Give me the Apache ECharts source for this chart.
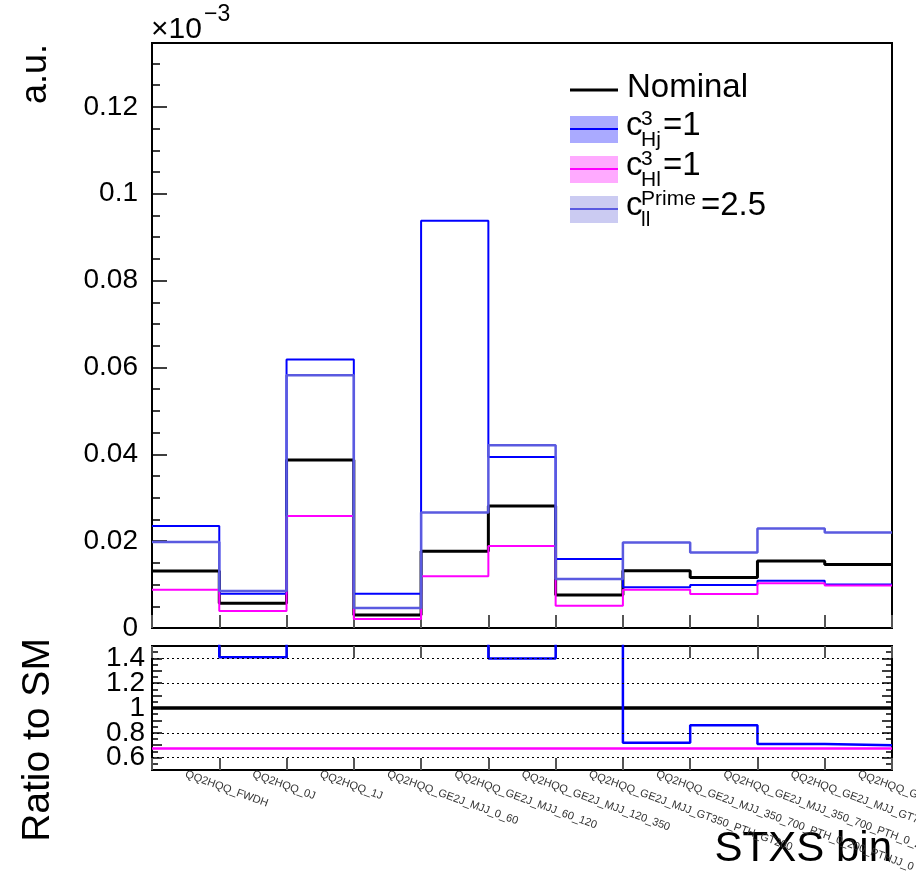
<!DOCTYPE html>
<html>
<head>
<meta charset="utf-8">
<script src="https://cdn.jsdelivr.net/npm/echarts@6/dist/echarts.min.js"></script>
<style>
  html, body { margin: 0; padding: 0; background: #fff; }
  #chart { width: 916px; height: 871px; }
</style>
</head>
<body>
<div id="chart"></div>
<script>
// STXS bins (x axis categories)
var bins = [
    'QQ2HQQ_FWDH',
    'QQ2HQQ_0J',
    'QQ2HQQ_1J',
    'QQ2HQQ_GE2J_MJJ_0_60',
    'QQ2HQQ_GE2J_MJJ_60_120',
    'QQ2HQQ_GE2J_MJJ_120_350',
    'QQ2HQQ_GE2J_MJJ_GT350_PTH_GT200',
    'QQ2HQQ_GE2J_MJJ_350_700_PTH_0_200_PTHJJ_0_25',
    'QQ2HQQ_GE2J_MJJ_350_700_PTH_0_200_PTHJJ_GT25',
    'QQ2HQQ_GE2J_MJJ_GT700_PTH_0_200_PTHJJ_0_25',
    'QQ2HQQ_GE2J_MJJ_GT700_PTH_0_200_PTHJJ_GT25'
];

// histogram contents (units of 1e-3)
var nominal  = [0.0131, 0.0057, 0.0387, 0.0030, 0.0177, 0.0281, 0.0076, 0.0132, 0.0116, 0.0154, 0.0146];
var cHj      = [0.0235, 0.0079, 0.0618, 0.0079, 0.0938, 0.0394, 0.0159, 0.0094, 0.0099, 0.0109, 0.0100];
var cHl      = [0.0088, 0.0039, 0.0258, 0.0021, 0.0119, 0.0189, 0.0051, 0.0088, 0.0078, 0.0103, 0.0098];
var cllPrime = [0.0198, 0.0085, 0.0582, 0.0046, 0.0266, 0.0421, 0.0113, 0.0197, 0.0174, 0.0229, 0.0220];

// ratio to SM
var ratioNominal = [1, 1, 1, 1, 1, 1, 1, 1, 1, 1, 1];
var ratioHj      = [1.79, 1.41, 1.60, 2.63, 5.30, 1.40, 2.09, 0.72, 0.86, 0.71, 0.70];
var ratioHl      = [0.674, 0.674, 0.674, 0.674, 0.674, 0.674, 0.674, 0.674, 0.674, 0.674, 0.674];
var ratioGrid    = [0.6, 0.8, 1.2, 1.4];

var legendNames = ['Nominal', 'c', 'c', 'c'];
var legendSup   = ['', '3', '3', 'Prime'];
var legendSub   = ['', 'Hj', 'Hl', 'll'];
var legendVal   = ['', '=1', '=1', '=2.5'];

var FONT = '"Liberation Sans", Arial, Helvetica, sans-serif';
var C_NOM = '#000000', C_HJ = '#0000ff', C_HL = '#ff00ff', C_LL = '#5a5ae0';

var chart = echarts.init(document.getElementById('chart'));

// histogram -> step polyline points (bin i spans [i, i+1])
function steps(vals) {
    var d = vals.map(function (v, i) { return [i, v]; });
    d.push([vals.length, vals[vals.length - 1]]);
    return d;
}

function histSeries(vals, color, width, grid) {
    return {
        type: 'line',
        step: 'end',
        symbol: 'none',
        xAxisIndex: grid === 0 ? 0 : 2,
        yAxisIndex: grid === 0 ? 0 : 1,
        data: steps(vals),
        lineStyle: { color: color, width: width },
        animation: false,
        clip: true
    };
}

// legend built by hand (ROOT style with super/subscripts)
var rowY = [90, 129, 169, 209];
var legendColors = [C_NOM, C_HJ, C_HL, C_LL];
var boxColors = [null, '#aaaaff', '#ffaaff', '#cbcbf2'];
var graphic = [];
for (var i = 0; i < rowY.length; i++) {
    var y = rowY[i];
    if (boxColors[i]) {
        graphic.push({ type: 'rect', shape: { x: 570, y: y - 13, width: 48, height: 27 }, style: { fill: boxColors[i] } });
    }
    graphic.push({ type: 'line', shape: { x1: 570, y1: y, x2: 618, y2: y },
        style: { stroke: legendColors[i], lineWidth: i === 0 ? 3 : 2 } });
    if (i === 0) {
        graphic.push({ type: 'text', x: 627, y: y - 2, style: { text: legendNames[i], font: '33px ' + FONT, fill: '#000', verticalAlign: 'middle' } });
    } else {
        graphic.push({ type: 'text', x: 626, y: y - 3, style: { text: legendNames[i], font: '33px ' + FONT, fill: '#000', verticalAlign: 'middle' } });
        graphic.push({ type: 'text', x: 641, y: y - 10, style: { text: legendSup[i], font: '21px ' + FONT, fill: '#000', verticalAlign: 'middle' } });
        graphic.push({ type: 'text', x: 641, y: y + 11, style: { text: legendSub[i], font: '21px ' + FONT, fill: '#000', verticalAlign: 'middle' } });
        graphic.push({ type: 'text', x: i === 3 ? 701 : 663, y: y - 3, style: { text: legendVal[i], font: '33px ' + FONT, fill: '#000', verticalAlign: 'middle' } });
    }
}

// axis titles
graphic.push({ type: 'text', x: 54, y: 44, rotation: Math.PI / 2,
    style: { text: 'a.u.', font: '36px ' + FONT, fill: '#000', align: 'right', verticalAlign: 'bottom' } });
graphic.push({ type: 'text', x: 38, y: 740, rotation: Math.PI / 2,
    style: { text: 'Ratio to SM', font: '39px ' + FONT, fill: '#000', align: 'center', verticalAlign: 'middle' } });
graphic.push({ type: 'text', x: 892, y: 870,
    style: { text: 'STXS bin', font: '42px ' + FONT, fill: '#000', align: 'right', verticalAlign: 'bottom' } });
graphic.push({ type: 'text', x: 151, y: 30,
    style: { text: '\u00d710', font: '30px ' + FONT, fill: '#000', verticalAlign: 'middle' } });
graphic.push({ type: 'text', x: 204, y: 15,
    style: { text: '\u22123', font: '23px ' + FONT, fill: '#000', verticalAlign: 'middle' } });

var option = {
    animation: false,
    backgroundColor: '#fff',
    textStyle: { fontFamily: FONT },
    grid: [
        { left: 152, top: 43, width: 740, height: 585, show: true, borderColor: '#000', borderWidth: 2,
          backgroundColor: 'transparent', containLabel: false, outerBoundsMode: 'none' },
        { left: 152, top: 646, width: 740, height: 124, show: true, borderColor: '#000', borderWidth: 2,
          backgroundColor: 'transparent', containLabel: false, outerBoundsMode: 'none' }
    ],
    xAxis: [
        { type: 'value', gridIndex: 0, min: 0, max: bins.length, show: false },
        {
            type: 'category', gridIndex: 0, data: bins, boundaryGap: true, position: 'bottom',
            axisLine: { show: false },
            axisTick: { show: true, inside: true, interval: 0, length: 13, lineStyle: { color: '#555', width: 2 } },
            axisLabel: { show: false }
        },
        { type: 'value', gridIndex: 1, min: 0, max: bins.length, show: false },
        {
            type: 'category', gridIndex: 1, data: bins, boundaryGap: true, position: 'bottom',
            axisLine: { show: false },
            axisTick: { show: true, inside: true, interval: 0, length: 12, lineStyle: { color: '#555', width: 2 } },
            axisLabel: { show: true, interval: 0, rotate: -20, margin: 4, fontSize: 11, color: '#333', fontFamily: FONT }
        },
        {
            type: 'category', gridIndex: 1, data: bins, boundaryGap: true, position: 'top',
            axisLine: { show: false },
            axisTick: { show: true, inside: true, interval: 0, length: 12, lineStyle: { color: '#555', width: 2 } },
            axisLabel: { show: false }
        }
    ],
    yAxis: [
        {
            type: 'value', gridIndex: 0, min: 0, max: 0.1347, interval: 0.02,
            axisLine: { show: false },
            axisTick: { show: true, inside: true, length: 15, lineStyle: { color: '#000', width: 1.5 } },
            minorTick: { show: true, splitNumber: 4, length: 8, lineStyle: { color: '#000', width: 1.5 } },
            splitLine: { show: false },
            axisLabel: { fontSize: 28, color: '#000', margin: 14, showMaxLabel: false, fontFamily: FONT }
        },
        {
            type: 'value', gridIndex: 1, min: 0.5, max: 1.5, interval: 0.1,
            axisLine: { show: false },
            axisTick: { show: true, inside: true, length: 10, lineStyle: { color: '#000', width: 1.5 } },
            minorTick: { show: true, splitNumber: 2, length: 6, lineStyle: { color: '#000', width: 1.5 } },
            splitLine: { show: false },
            axisLabel: {
                fontSize: 28, color: '#000', margin: 7, fontFamily: FONT,
                formatter: function (v) {
                    var k = Math.round(v * 10);
                    if (k % 2 !== 0 || k < 6 || k > 14) return '';
                    return String(k / 10);
                }
            }
        },
        {
            type: 'value', gridIndex: 1, min: 0.5, max: 1.5, interval: 0.1, position: 'right',
            axisLine: { show: false },
            axisTick: { show: true, inside: true, length: 10, lineStyle: { color: '#000', width: 1.5 } },
            minorTick: { show: true, splitNumber: 2, length: 6, lineStyle: { color: '#000', width: 1.5 } },
            splitLine: { show: false },
            axisLabel: { show: false }
        }
    ],
    series: [
        histSeries(nominal, C_NOM, 3, 0),
        histSeries(cHj, C_HJ, 2, 0),
        histSeries(cHl, C_HL, 2, 0),
        histSeries(cllPrime, C_LL, 2.5, 0),
        (function () {
            var s = histSeries(ratioNominal, C_NOM, 3.5, 1);
            s.markLine = {
                silent: true, symbol: 'none', label: { show: false },
                lineStyle: { color: '#000', type: [2, 3], width: 1 },
                data: ratioGrid.map(function (v) { return { yAxis: v }; })
            };
            return s;
        })(),
        histSeries(ratioHj, C_HJ, 2.5, 1),
        histSeries(ratioHl, C_HL, 2.5, 1)
    ],
    graphic: graphic
};

chart.setOption(option);
</script>
</body>
</html>
